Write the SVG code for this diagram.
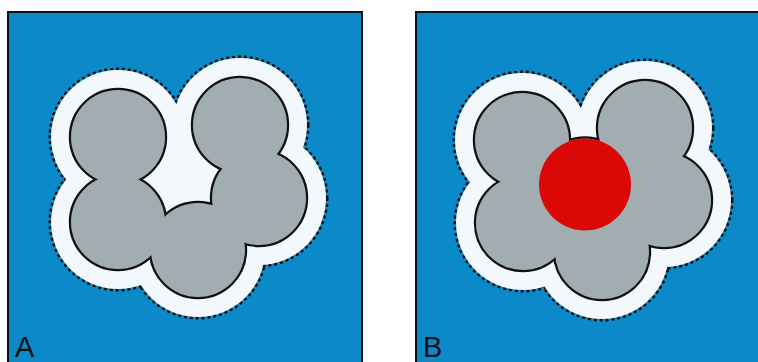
<svg xmlns="http://www.w3.org/2000/svg" width="758" height="362" viewBox="0 0 758 362">
  <style>
    .panel { fill: #0b89c9; stroke: #111; stroke-width: 2; }
    .halo-edge { fill: none; stroke: #111; stroke-width: 5; stroke-dasharray: 3 2.8; }
    .halo { fill: #f3f8fc; }
    .blob-edge { fill: none; stroke: #111; stroke-width: 4.4; }
    .blob { fill: #a2adb1; }
    .core { fill: #dc0808; }
    .label { font-family: "Liberation Sans", Arial, sans-serif; font-size: 29px; fill: #111; }
  </style>
  <defs>
    <!-- panel A: five overlapping discs -->
    <g id="discsA">
      <circle cx="118" cy="137" r="47"/>
      <circle cx="118" cy="222" r="47"/>
      <circle cx="198" cy="250" r="47"/>
      <circle cx="259" cy="198" r="47"/>
      <circle cx="240" cy="125" r="47"/>
    </g>
    <g id="halosA">
      <circle cx="118" cy="137" r="67"/>
      <circle cx="118" cy="222" r="67"/>
      <circle cx="198" cy="250" r="67"/>
      <circle cx="259" cy="198" r="67"/>
      <circle cx="240" cy="125" r="67"/>
    </g>
    <!-- panel B: five discs around a central one -->
    <g id="discsB">
      <circle cx="522" cy="140" r="47"/>
      <circle cx="523" cy="223" r="47"/>
      <circle cx="602" cy="252" r="47"/>
      <circle cx="664" cy="200" r="47"/>
      <circle cx="645" cy="128" r="47"/>
      <circle cx="585" cy="184.5" r="46"/>
    </g>
    <g id="halosB">
      <circle cx="522" cy="140" r="67"/>
      <circle cx="523" cy="223" r="67"/>
      <circle cx="602" cy="252" r="67"/>
      <circle cx="664" cy="200" r="67"/>
      <circle cx="645" cy="128" r="67"/>
      <circle cx="585" cy="184.5" r="66"/>
    </g>
  </defs>

  <g id="panelA">
    <rect class="panel" x="8" y="12" width="354" height="362"/>
    <!-- union outlines: stroke every disc, then cover the inner halves with fills -->
    <use href="#halosA" class="halo-edge"/>
    <use href="#halosA" class="halo"/>
    <!-- the enclosed pocket between the discs is part of the halo too -->
    <polygon class="halo" points="118,137 240,125 259,198 198,250 118,222"/>
    <use href="#discsA" class="blob-edge"/>
    <use href="#discsA" class="blob"/>
    <text class="label" x="15" y="357">A</text>
  </g>

  <g id="panelB">
    <rect class="panel" x="416" y="12" width="352" height="362"/>
    <use href="#halosB" class="halo-edge"/>
    <use href="#halosB" class="halo"/>
    <use href="#discsB" class="blob-edge"/>
    <use href="#discsB" class="blob"/>
    <circle class="core" cx="585" cy="184.5" r="46"/>
    <text class="label" x="423" y="357">B</text>
  </g>
</svg>
